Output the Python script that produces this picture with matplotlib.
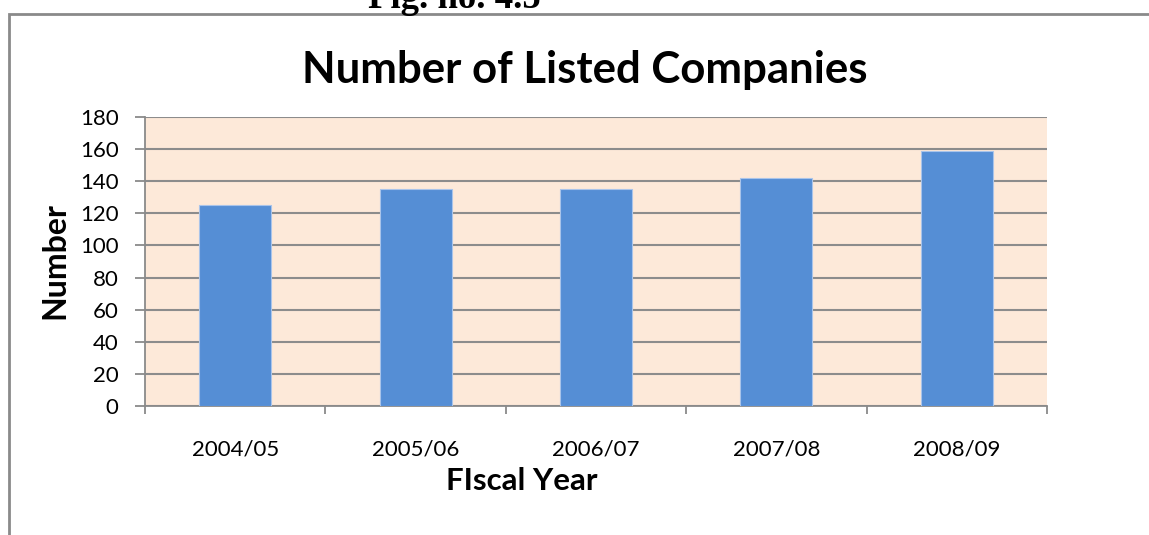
import matplotlib.pyplot as plt
from matplotlib.patches import Rectangle
import numpy as np

years = ['2004/05', '2005/06', '2006/07', '2007/08', '2008/09']
companies = [125, 135, 135, 142, 159]
yticks = list(range(0, 181, 20))

W, H = 1149, 535
fig = plt.figure(figsize=(W / 100, H / 100), dpi=100)
plt.rcParams['font.family'] = ['Lato', 'DejaVu Sans']

# outer chart border (left/top visible)
fig.patches.append(Rectangle((9 / W, -0.1), 1.2, 1 - 14 / H + 0.1, transform=fig.transFigure,
                             fill=False, edgecolor='#8a8a8a', linewidth=2))

fig.text(454 / W, 1 - 7.5 / H, 'Fig. no. 4.5', family='Liberation Serif', weight='bold',
         fontsize=26.5, ha='center', va='baseline')

ax = fig.add_axes([145 / W, 1 - 406 / H, (1047 - 145) / W, (406 - 117) / H])
ax.set_facecolor('#fde9d9')
x = np.arange(len(years))
ax.bar(x, companies, width=0.4, color='#558ed5', edgecolor='#a9c4ea', linewidth=0.8, zorder=3)

ax.set_xlim(-0.5, len(years) - 0.5)
ax.set_ylim(0, 180)
ax.set_yticks(yticks)
ax.tick_params(axis='y', labelsize=16, length=7, color='#8a8a8a', width=1.3, pad=12)
ax.set_xticks(np.arange(-0.5, len(years), 1))
ax.set_xticklabels([])
ax.set_xticks(x, minor=True)
ax.set_xticklabels(years, minor=True)
ax.tick_params(axis='x', which='major', length=5.5, color='#8a8a8a', width=1.3)
ax.tick_params(axis='x', which='minor', length=0, labelsize=16, pad=24)
ax.yaxis.grid(True, color='#8c8c8c', linewidth=1.5, zorder=1)
ax.set_axisbelow(True)
for s in ['top', 'right']:
    ax.spines[s].set_visible(False)
for s in ['left', 'bottom']:
    ax.spines[s].set_color('#8a8a8a')
    ax.spines[s].set_linewidth(1.3)

fig.text(585 / W, 1 - 70 / H, 'Number of Listed Companies', weight='bold', fontsize=31.5,
         ha='center', va='center')
fig.text(55 / W, 1 - 261 / H, 'Number', weight='bold', fontsize=23, rotation=90,
         ha='center', va='center')
fig.text(522 / W, 1 - 481 / H, 'FIscal Year', weight='bold', fontsize=22.5,
         ha='center', va='center')

fig.savefig('out.png', dpi=100)
